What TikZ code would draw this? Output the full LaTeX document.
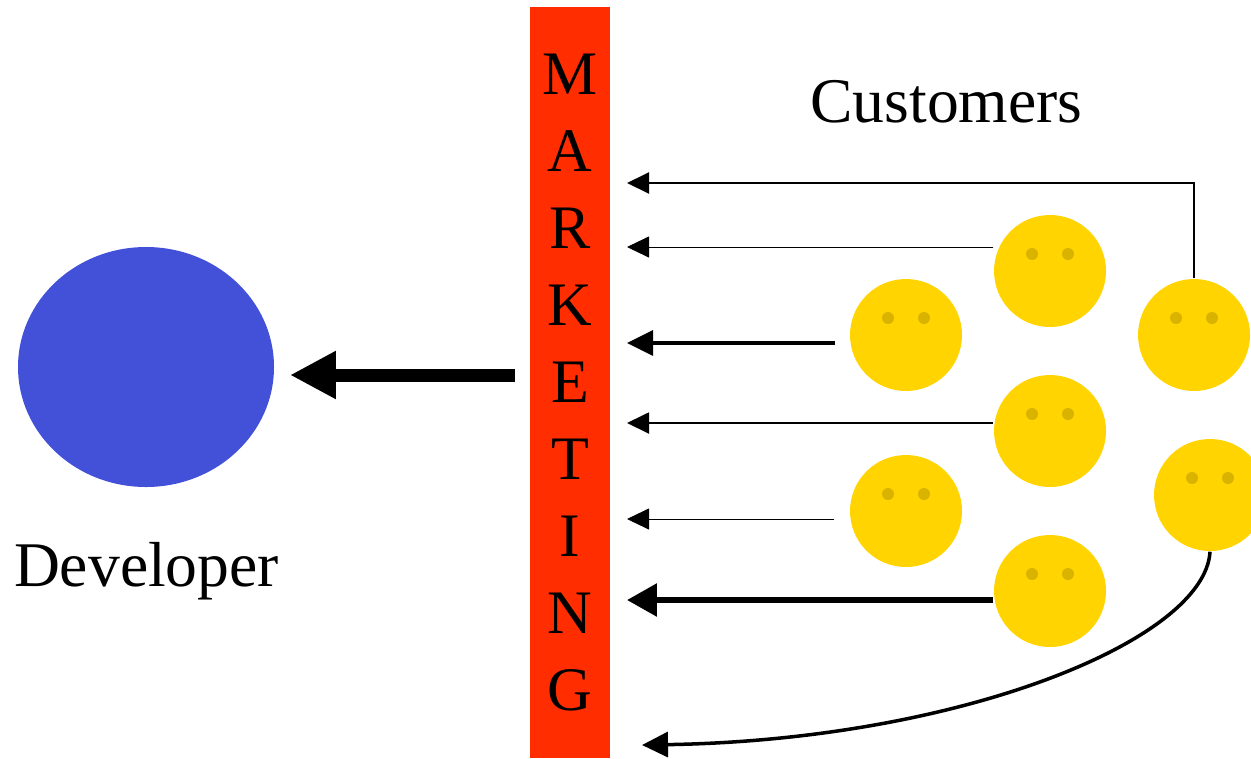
\documentclass[tikz,border=0pt]{standalone}
\usepackage{fontspec}
\setmainfont{Liberation Serif}
\usetikzlibrary{shapes.geometric, arrows.meta}
\definecolor{barred}{HTML}{FF2D00}
\definecolor{devblue}{HTML}{4350D8}
\definecolor{faceyellow}{HTML}{FFD400}
\definecolor{eyeyellow}{HTML}{D9B300}
\tikzset{
  face/.style={circle, fill=faceyellow, inner sep=0, minimum size=1.12cm},
  eye/.style={circle, fill=eyeyellow, inner sep=0, minimum size=0.12cm},
  label/.style={font=\fontsize{18.1}{22}\selectfont, anchor=base, inner sep=0}
}
\begin{document}
\begin{tikzpicture}
\useasboundingbox (0,0) rectangle (12.51,7.58);
\node[fill=barred, inner sep=0, minimum width=0.8cm, minimum height=7.51cm, align=center, font=\fontsize{17.6}{21.88}\selectfont] (bar) at (5.70,3.755) {M\\A\\R\\K\\E\\T\\I\\N\\G};
\node[ellipse, fill=devblue, inner sep=0, minimum width=2.56cm, minimum height=2.40cm] (dev) at (1.46,3.91) {};
\node[label] (devlabel) at (1.465,1.72) {Developer};
\node[label] (custlabel) at (9.465,6.36) {Customers};
\node[face] (c1) at (10.50,4.87) {};
\node[face] (c2) at (9.06,4.23) {};
\node[face] (c3) at (11.94,4.23) {};
\node[face] (c4) at (10.50,3.27) {};
\node[face] (c5) at (9.06,2.47) {};
\node[face] (c6) at (12.10,2.63) {};
\node[face] (c7) at (10.50,1.67) {};
% Eyes
\node[eye] (e1l) at (10.32,5.04) {};
\node[eye] (e1r) at (10.68,5.04) {};
\node[eye] (e2l) at (8.88,4.40) {};
\node[eye] (e2r) at (9.24,4.40) {};
\node[eye] (e3l) at (11.76,4.40) {};
\node[eye] (e3r) at (12.12,4.40) {};
\node[eye] (e4l) at (10.32,3.44) {};
\node[eye] (e4r) at (10.68,3.44) {};
\node[eye] (e5l) at (8.88,2.64) {};
\node[eye] (e5r) at (9.24,2.64) {};
\node[eye] (e6l) at (11.92,2.80) {};
\node[eye] (e6r) at (12.28,2.80) {};
\node[eye] (e7l) at (10.32,1.84) {};
\node[eye] (e7r) at (10.68,1.84) {};
% Free ends
\coordinate (a1) at (6.27,5.75);
\coordinate (a2) at (6.27,5.11);
\coordinate (a3) at (6.27,4.15);
\coordinate (a4) at (6.27,3.35);
\coordinate (a5) at (6.27,2.39);
\coordinate (a6) at (6.27,1.58);
\coordinate (a7) at (6.42,0.13);
\coordinate (s3) at (8.35,4.15);
\coordinate (s5) at (8.34,2.39);
\coordinate (k1) at (5.15,3.83);
\coordinate (k2) at (2.90,3.83);
% Arrows
\draw [-{Triangle[length=22*0.01cm, width=21*0.01cm]}, line width=0.6pt] (c3.north) |- (a1);
\draw [-{Triangle[length=22*0.01cm, width=21*0.01cm]}, line width=0.25pt] (c1.west |- a2) -- (a2);
\draw [-{Triangle[length=26*0.01cm, width=25*0.01cm]}, line width=0.9pt] (s3) -- (a3);
\draw [-{Triangle[length=22*0.01cm, width=21*0.01cm]}, line width=0.55pt] (c4.west |- a4) -- (a4);
\draw [-{Triangle[length=22*0.01cm, width=21*0.01cm]}, line width=0.25pt] (s5) -- (a5);
\draw [-{Triangle[length=30*0.01cm, width=32*0.01cm]}, line width=1.7pt] (c7.west |- a6) -- (a6);
\draw [-{Triangle[length=26*0.01cm, width=25*0.01cm]}, line width=1.0pt] (c6.south) .. controls (12.05,1.18) and (9.60,0.18) .. (a7);
\draw [-{Triangle[length=46*0.01cm, width=45*0.01cm]}, line width=3.7pt] (k1) -- (k2);
\end{tikzpicture}
\end{document}
